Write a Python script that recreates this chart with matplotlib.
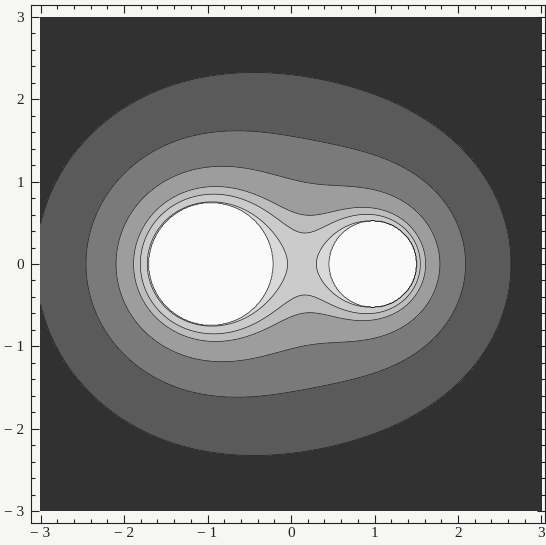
import numpy as np
import matplotlib
matplotlib.use("Agg")
import matplotlib.pyplot as plt
from matplotlib.ticker import MultipleLocator, FixedLocator, FixedFormatter

# Point sources producing the potential
charge_x = [-1.0, 1.0]
charge_y = [0.0, 0.0]
charge_q = [1.0, 0.58]

# Conductor discs (shown white)
disc_x = [-0.96, 0.98]
disc_y = [0.0, 0.0]
disc_r = [0.74, 0.52]
disc_value = 10.0

# Contour levels and their fill shades, outermost (lowest) first
levels = [0.0, 0.63, 0.855, 1.10, 1.33, 1.45, 1.60, 1.75, 5.0, 50.0]
shades = ["#313131", "#5a5a5a", "#7a7a7a", "#9d9d9d", "#bdbdbd",
          "#cbcbcb", "#d9d9d9", "#e5e5e5", "#fafafa"]

# Axis ticks
major_ticks = [-3, -2, -1, 0, 1, 2, 3]
tick_labels = ["\u2212 3", "\u2212 2", "\u2212 1", "0", "1", "2", "3"]

plot_range = (-3.0, 3.0)

n = 700
xs = np.linspace(plot_range[0], plot_range[1], n)
ys = np.linspace(plot_range[0], plot_range[1], n)
X, Y = np.meshgrid(xs, ys)

phi = np.zeros_like(X)
for cx, cy, q in zip(charge_x, charge_y, charge_q):
    phi += q / np.hypot(X - cx, Y - cy)
phi = np.clip(phi, levels[0], levels[-2] - 0.5)
for dx, dy, r in zip(disc_x, disc_y, disc_r):
    inside = np.hypot(X - dx, Y - dy) < r
    phi[inside] = disc_value

W, H = 546, 545
fig = plt.figure(figsize=(W / 100, H / 100), dpi=100, facecolor="#f6f6f4")
ax = fig.add_axes([31 / W, (H - 523) / H, 514 / W, 518 / H])
ax.set_facecolor("#f6f6f4")

ax.contourf(X, Y, phi, levels=levels, colors=shades)
ax.contour(X, Y, phi, levels=levels[1:-2], colors="#1e1e1e", linewidths=0.5)

ax.set_xlim(-3.114, 3.042)
ax.set_ylim(-3.146, 3.146)
ax.set_aspect("auto")

for axis in (ax.xaxis, ax.yaxis):
    axis.set_major_locator(FixedLocator(major_ticks))
    axis.set_major_formatter(FixedFormatter(tick_labels))
    axis.set_minor_locator(MultipleLocator(0.2))

ax.tick_params(which="both", direction="in", top=True, right=True,
               color="#222222", width=0.8)
ax.tick_params(which="major", length=6)
ax.tick_params(which="minor", length=3)
ax.tick_params(axis="x", pad=3)
ax.tick_params(axis="y", pad=5)
for lab in ax.get_xticklabels() + ax.get_yticklabels():
    lab.set_fontfamily("Liberation Serif")
    lab.set_fontsize(11)
    lab.set_color("#222222")
for sp in ax.spines.values():
    sp.set_color("#222222")
    sp.set_linewidth(0.8)

fig.savefig("out.png", dpi=100, facecolor=fig.get_facecolor())
